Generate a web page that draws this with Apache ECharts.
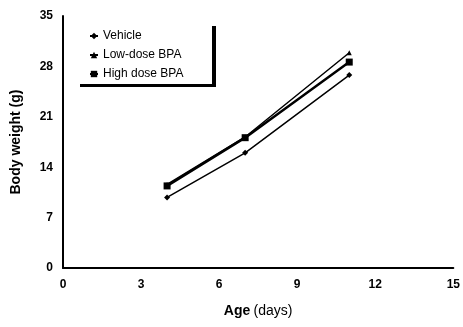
<!DOCTYPE html>
<html><head><meta charset="utf-8">
<script src="https://cdn.jsdelivr.net/npm/echarts@6/dist/echarts.min.js"></script>
<style>html,body{margin:0;padding:0;background:#fff}#c{width:463px;height:327px}</style>
</head><body><div id="c"></div>
<script>
const days = [4, 7, 11];
const vehicle = [9.8, 16.0, 26.8];
const lowDose = [11.6, 18.2, 29.9];
const highDose = [11.4, 18.1, 28.6];
const seriesNames = ['Vehicle', 'Low-dose BPA', 'High dose BPA'];
const xTicks = [0, 3, 6, 9, 12, 15];
const yTicks = [0, 7, 14, 21, 28, 35];

const chart = echarts.init(document.getElementById('c'));
const pair = arr => days.map((d, i) => [d, arr[i]]);
chart.setOption({
  animation: false,
  grid: { left: 63, right: 8, top: 16, bottom: 59 },
  xAxis: {
    type: 'value', min: xTicks[0], max: xTicks[xTicks.length - 1], interval: 3,
    axisLine: { lineStyle: { color: '#000', width: 2 } },
    axisTick: { show: false }, splitLine: { show: false },
    axisLabel: { color: '#000', fontFamily: 'Liberation Sans Narrow, Arial Narrow, sans-serif', fontWeight: 'bold', fontSize: 12, margin: 11 },
    name: '{b|Age} {r|(days)}', nameLocation: 'middle', nameGap: 36,
    nameTextStyle: { rich: {
      b: { fontFamily: 'Liberation Sans', fontWeight: 'bold', fontSize: 14, color: '#000' },
      r: { fontFamily: 'Liberation Sans', fontSize: 14, color: '#000' } } }
  },
  yAxis: {
    type: 'value', min: yTicks[0], max: yTicks[yTicks.length - 1], interval: 7,
    axisLine: { show: true, lineStyle: { color: '#000', width: 2 } },
    axisTick: { show: false }, splitLine: { show: false },
    axisLabel: { color: '#000', fontFamily: 'Liberation Sans Narrow, Arial Narrow, sans-serif', fontWeight: 'bold', fontSize: 12, margin: 10 },
    name: 'Body weight (g)', nameLocation: 'middle', nameGap: 40,
    nameTextStyle: { fontFamily: 'Liberation Sans', fontWeight: 'bold', fontSize: 14, color: '#000' }
  },
  legend: {
    orient: 'vertical', left: 84, top: 25, itemWidth: 8, itemHeight: 8, itemGap: 7,
    textStyle: { fontFamily: 'Liberation Sans', fontSize: 12, color: '#000' },
    data: seriesNames
  },
  graphic: [
    { type: 'rect', shape: { x: 212, y: 26, width: 4, height: 61 }, style: { fill: '#000' } },
    { type: 'rect', shape: { x: 80, y: 84, width: 136, height: 3 }, style: { fill: '#000' } }
  ],
  series: [
    { name: seriesNames[0], type: 'line', data: pair(vehicle), symbol: 'diamond', symbolSize: 6,
      lineStyle: { color: '#000', width: 1.5 }, itemStyle: { color: '#000' } },
    { name: seriesNames[1], type: 'line', data: pair(lowDose), symbol: 'triangle', symbolSize: 5,
      lineStyle: { color: '#000', width: 1.5 }, itemStyle: { color: '#000' } },
    { name: seriesNames[2], type: 'line', data: pair(highDose), symbol: 'rect', symbolSize: 7,
      lineStyle: { color: '#000', width: 2.5 }, itemStyle: { color: '#000' } }
  ]
});
</script></body></html>
